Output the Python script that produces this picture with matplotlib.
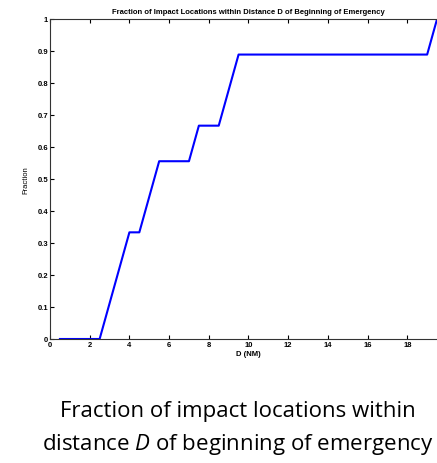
import matplotlib
matplotlib.use('Agg')
import matplotlib.pyplot as plt

# cumulative fraction of impact locations vs distance D (NM)
dist = [0.5, 2.5, 4.0, 4.5, 5.5, 7.0, 7.5, 8.5, 9.5, 19.0, 19.5]
frac = [0.0, 0.0, 1/3, 1/3, 5/9, 5/9, 6/9, 6/9, 8/9, 8/9, 1.0]

xticks = [0, 2, 4, 6, 8, 10, 12, 14, 16, 18]
yticks = [0, 0.1, 0.2, 0.3, 0.4, 0.5, 0.6, 0.7, 0.8, 0.9, 1]
ylabels = ['0', '0.1', '0.2', '0.3', '0.4', '0.5', '0.6', '0.7', '0.8', '0.9', '1']

plt.rcParams['font.family'] = ['Liberation Sans', 'DejaVu Sans']
plt.rcParams['mathtext.fontset'] = 'custom'
plt.rcParams['mathtext.it'] = 'Open Sans:italic'

W, H = 437, 464
fig = plt.figure(figsize=(W / 100, H / 100), dpi=100)
# axes run a little past the right edge, like the cropped original
ax = fig.add_axes([50 / W, (H - 340) / H, 397 / W, 320 / H])

ax.plot(dist, frac, color='#0000ff', linewidth=1.5)
ax.set_xlim(0, 20)
ax.set_ylim(0, 1)
ax.set_xticks(xticks)
ax.set_xticklabels([str(t) for t in xticks])
ax.set_yticks(yticks)
ax.set_yticklabels(ylabels)
ax.tick_params(direction='in', length=3, width=0.8, labelsize=5.5,
               pad=1.5, top=True, right=True, labeltop=False)
for lab in ax.get_xticklabels() + ax.get_yticklabels():
    lab.set_fontweight('bold')
for s in ax.spines.values():
    s.set_linewidth(0.8)
    s.set_color('#333333')

ax.set_xlabel('D (NM)', fontsize=5.5, fontweight='bold', labelpad=1.5)
ax.set_ylabel('Fraction', fontsize=5.5, labelpad=6)
fig.text(248 / W, 1 - 12 / H,
         'Fraction of Impact Locations within Distance D of Beginning of Emergency',
         ha='center', va='center', fontsize=5.5, fontweight='bold')

fig.text(238 / W, 1 - 412 / H, 'Fraction of impact locations within',
         ha='center', va='center', fontsize=16, family=['Open Sans', 'DejaVu Sans'])
fig.text(238 / W, 1 - 445 / H, r'distance $D$ of beginning of emergency',
         ha='center', va='center', fontsize=16, family=['Open Sans', 'DejaVu Sans'])

fig.savefig('out.png', dpi=100)
